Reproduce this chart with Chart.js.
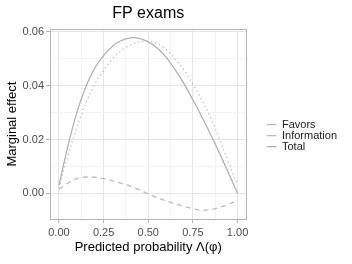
<!DOCTYPE html>
<html>
<head>
<meta charset="utf-8">
<script src="https://cdn.jsdelivr.net/npm/chart.js@4.4.1/dist/chart.umd.min.js"></script>
<style>
  html, body { margin: 0; padding: 0; background: #fff; }
  #wrap { width: 352px; height: 264px; }
</style>
</head>
<body>
<div id="wrap"><canvas id="chart" width="352" height="264"></canvas></div>
<script>
const probs = [0, 0.05, 0.1, 0.15, 0.2, 0.25, 0.3, 0.35, 0.4, 0.45, 0.5,
  0.55, 0.6, 0.65, 0.7, 0.75, 0.8, 0.85, 0.9, 0.95, 1];

const favors = [0.0020, 0.0140, 0.0245, 0.0334, 0.0405, 0.0457, 0.0500, 0.0531,
  0.0551, 0.0563, 0.0566, 0.0557, 0.0535, 0.0500, 0.0458, 0.0405, 0.0348,
  0.0280, 0.0200, 0.0115, 0.0030];

const information = [0.0015, 0.0038, 0.0055, 0.0061, 0.0060, 0.0055, 0.0047,
  0.0037, 0.0027, 0.0013, -0.0002, -0.0016, -0.0028, -0.0038, -0.0048,
  -0.0057, -0.0062, -0.0060, -0.0052, -0.0040, -0.0027];

const totals = [0.0030, 0.0175, 0.0300, 0.0395, 0.0465, 0.0512, 0.0547, 0.0568,
  0.0578, 0.0576, 0.0563, 0.0540, 0.0506, 0.0460, 0.0408, 0.0348, 0.0285,
  0.0218, 0.0148, 0.0075, 0.0000];

const xMajor = [0, 0.25, 0.5, 0.75, 1];
const xMinor = [0.125, 0.375, 0.625, 0.875];
const xLabels = ["0.00", "0.25", "0.50", "0.75", "1.00"];

const yMajor = [0, 0.02, 0.04, 0.06];
const yMinor = [0.01, 0.03, 0.05];
const yLabels = ["0.00", "0.02", "0.04", "0.06"];

const FONT = "'Liberation Sans', Arial, Helvetica, sans-serif";

function pts(ys) {
  return ys.map((y, i) => ({ x: probs[i], y: y }));
}

function majorIdx(list, v) {
  return list.findIndex((m) => Math.abs(m - v) < 1e-9);
}

function setTicks(major, minor) {
  return (axis) => {
    axis.ticks = major.concat(minor).sort((a, b) => a - b).map((v) => ({ value: v }));
  };
}

function gridOpts(major) {
  return {
    color: (c) => (c.tick && majorIdx(major, c.tick.value) >= 0 ? "#e4e4e4" : "#f2f2f2"),
    tickColor: (c) => (c.tick && majorIdx(major, c.tick.value) >= 0 ? "#b3b3b3" : "rgba(0,0,0,0)"),
    lineWidth: 1,
    tickLength: 4,
  };
}

new Chart(document.getElementById("chart"), {
  type: "line",
  data: {
    datasets: [
      {
        label: "Favors",
        data: pts(favors),
        borderColor: "#bcbcbc",
        borderWidth: 1.3,
        borderDash: [1.3, 3],
      },
      {
        label: "Information",
        data: pts(information),
        borderColor: "#bcbcbc",
        borderWidth: 1.3,
        borderDash: [5, 4],
      },
      {
        label: "Total",
        data: pts(totals),
        borderColor: "#b0b0b0",
        borderWidth: 1.3,
      },
    ],
  },
  options: {
    responsive: false,
    animation: false,
    devicePixelRatio: 1,
    layout: { padding: { left: 0, right: 5, top: 0, bottom: 0 } },
    elements: {
      point: { radius: 0 },
      line: { tension: 0.35, fill: false },
    },
    scales: {
      x: {
        type: "linear",
        min: -0.05,
        max: 1.05,
        afterBuildTicks: setTicks(xMajor, xMinor),
        afterFit: (s) => { s.height = 45; },
        grid: gridOpts(xMajor),
        border: { display: true, color: "#b3b3b3", width: 1 },
        ticks: {
          autoSkip: false,
          maxRotation: 0,
          padding: 3,
          color: "#4d4d4d",
          font: { family: FONT, size: 11 },
          callback: (v) => {
            const i = majorIdx(xMajor, v);
            return i >= 0 ? xLabels[i] : "";
          },
        },
        title: {
          display: true,
          text: "Predicted probability Λ(φ)",
          color: "#000",
          font: { family: FONT, size: 13 },
          padding: { top: 2, bottom: 9 },
        },
      },
      x2: {
        type: "linear",
        position: "top",
        min: 0,
        max: 1,
        afterFit: (s) => { s.height = 0; },
        grid: { display: false },
        ticks: { display: false },
        border: { display: true, color: "#b3b3b3", width: 1 },
      },
      y: {
        type: "linear",
        min: -0.0095,
        max: 0.061,
        afterBuildTicks: setTicks(yMajor, yMinor),
        afterFit: (s) => { s.width = 50; },
        grid: gridOpts(yMajor),
        border: { display: true, color: "#b3b3b3", width: 1 },
        ticks: {
          autoSkip: false,
          padding: 2,
          color: "#4d4d4d",
          font: { family: FONT, size: 11 },
          callback: (v) => {
            const i = majorIdx(yMajor, v);
            return i >= 0 ? yLabels[i] : "";
          },
        },
        title: {
          display: true,
          text: "Marginal effect",
          color: "#000",
          font: { family: FONT, size: 13 },
          padding: { top: 5, bottom: 0 },
        },
      },
      y2: {
        type: "linear",
        position: "right",
        min: 0,
        max: 1,
        afterFit: (s) => { s.width = 20; },
        grid: { display: false },
        ticks: { display: false },
        border: { display: true, color: "#b3b3b3", width: 1 },
      },
    },
    plugins: {
      title: {
        display: true,
        text: "FP exams",
        fullSize: false,
        color: "#000",
        font: { family: FONT, size: 16, weight: "normal" },
        padding: { top: 4, bottom: 6 },
      },
      legend: {
        position: "right",
        maxWidth: 110,
        title: { display: true, text: "", font: { size: 1 }, padding: { top: 6, bottom: 0 } },
        labels: {
          usePointStyle: true,
          pointStyle: "line",
          pointStyleWidth: 10,
          padding: 0,
          color: "#1a1a1a",
          font: { family: FONT, size: 11 },
        },
      },
      tooltip: { enabled: false },
    },
  },
});
</script>
</body>
</html>
